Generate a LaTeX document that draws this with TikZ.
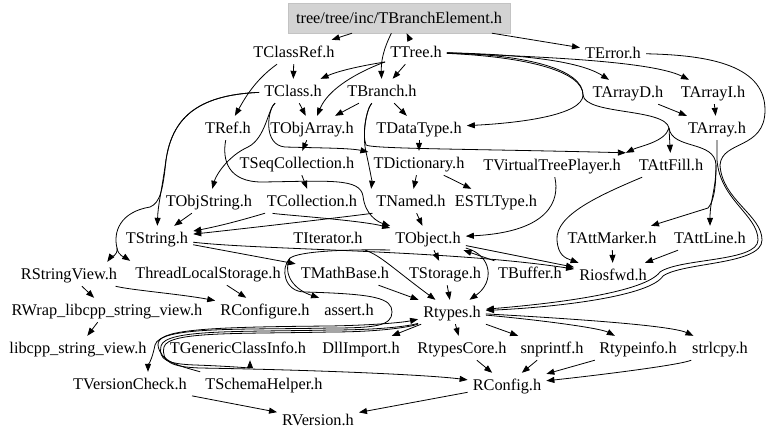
\documentclass[tikz,border=0pt]{standalone}
\usepackage{fontspec}
\setmainfont{Liberation Serif}
\usetikzlibrary{arrows.meta}
\definecolor{boxfill}{RGB}{211,211,211}
\definecolor{boxline}{RGB}{195,195,195}
\begin{document}
\begin{tikzpicture}[x=1pt,y=-1pt,
  n/.style={inner xsep=5pt, inner ysep=6.5pt, text height=11pt, text depth=0pt, font=\fontsize{16.3}{18}\selectfont},
  e/.style={line width=0.8pt, -{Triangle[length=8pt,width=6pt]}}]
\useasboundingbox (0,0) rectangle (768,440);
% nodes
\node[n, fill=boxfill, draw=boxline, inner ysep=3pt, minimum width=222pt, minimum height=30pt] (BE) at (399,18) {tree/tree/inc/TBranchElement.h};
\node[n] (TClassRef) at (294,52) {TClassRef.h};
\node[n] (TTree) at (416,52) {TTree.h};
\node[n] (TError) at (613,53) {TError.h};
\node[n] (TClass) at (293,91) {TClass.h};
\node[n] (TBranch) at (382,91) {TBranch.h};
\node[n] (TArrayD) at (628,92) {TArrayD.h};
\node[n] (TArrayI) at (713,92) {TArrayI.h};
\node[n] (TRef) at (228,128) {TRef.h};
\node[n] (TObjArray) at (312,128) {TObjArray.h};
\node[n] (TDataType) at (419,128) {TDataType.h};
\node[n] (TArray) at (717,128) {TArray.h};
\node[n] (TSeqCollection) at (297,163) {TSeqCollection.h};
\node[n] (TDictionary) at (419,163) {TDictionary.h};
\node[n] (TVirtualTreePlayer) at (552,165) {TVirtualTreePlayer.h};
\node[n] (TAttFill) at (671,165) {TAttFill.h};
\node[n] (TObjString) at (209,201) {TObjString.h};
\node[n] (TCollection) at (312,201) {TCollection.h};
\node[n] (TNamed) at (411,201) {TNamed.h};
\node[n] (ESTLType) at (496,201) {ESTLType.h};
\node[n] (TString) at (157,238) {TString.h};
\node[n] (TIterator) at (328,238) {TIterator.h};
\node[n] (TObject) at (428,238) {TObject.h};
\node[n] (TAttMarker) at (612,238) {TAttMarker.h};
\node[n] (TAttLine) at (710,238) {TAttLine.h};
\node[n] (RStringView) at (69,274) {RStringView.h};
\node[n] (ThreadLocalStorage) at (208,273) {ThreadLocalStorage.h};
\node[n] (TMathBase) at (345,273) {TMathBase.h};
\node[n] (TStorage) at (445,273) {TStorage.h};
\node[n] (TBuffer) at (530,273) {TBuffer.h};
\node[n] (Riosfwd) at (613,275) {Riosfwd.h};
\node[n] (RWrap) at (107,310) {RWrap\_libcpp\_string\_view.h};
\node[n] (RConfigure) at (265,310) {RConfigure.h};
\node[n] (assert) at (349,310) {assert.h};
\node[n] (Rtypes) at (452,312) {Rtypes.h};
\node[n] (libcpp) at (78,348) {libcpp\_string\_view.h};
\node[n] (TGenericClassInfo) at (238,348) {TGenericClassInfo.h};
\node[n] (DllImport) at (361,348) {DllImport.h};
\node[n] (RtypesCore) at (462,348) {RtypesCore.h};
\node[n] (snprintf) at (552,348) {snprintf.h};
\node[n] (Rtypeinfo) at (638,348) {Rtypeinfo.h};
\node[n] (strlcpy) at (720,348) {strlcpy.h};
\node[n] (TVersionCheck) at (130,384) {TVersionCheck.h};
\node[n] (TSchemaHelper) at (264,384) {TSchemaHelper.h};
\node[n] (RConfig) at (507,385) {RConfig.h};
\node[n] (RVersion) at (318,420) {RVersion.h};
% bend points
\coordinate (b1) at (583,95);
\coordinate (b2) at (669,128);
\coordinate (b3) at (716,165);
% edges top
\draw[e] (BE) -- (TClassRef);
\draw[e] (TTree) -- (BE);
\draw[e] (BE) .. controls (383,50) and (381,62) .. (TBranch);
\draw[e] (BE) -- (TError);
\draw[e] (TClassRef) -- (TClass);
\draw[e] (TClassRef) .. controls (255,80) and (245,98) .. (TRef);
\draw[e] (TTree) .. controls (385,62) and (345,68) .. (TClass);
\draw[e] (TTree) .. controls (385,62) and (332,80) .. (TObjArray);
\draw[e] (TTree) -- (TBranch);
\draw[e] (TTree) .. controls (500,54) and (575,58) .. (TArrayD);
\draw[e] (TTree) .. controls (520,56) and (650,60) .. (TArrayI);
\draw[e] (TTree) .. controls (530,55) and (583,70) .. (b1) .. controls (583,115) and (520,123) .. (TDataType);
\draw[e] (TTree) .. controls (530,57) and (583,72) .. (b1) .. controls (585,115) and (665,108) .. (b2) -- (TAttFill);
\draw[e] (b2) .. controls (665,142) and (640,146) .. (TVirtualTreePlayer.north east);
\draw[e] (b2) .. controls (672,150) and (715,140) .. (b3) .. controls (716,190) and (710,200) .. (TAttLine);
\draw[e] (b3) .. controls (716,195) and (712,203) .. (708,208) -- (TAttMarker);
\draw[e] (TArray) -- (717,160) .. controls (720,200) and (758,215) .. (758,240) .. controls (758,262) and (680,258) .. (660,272) .. controls (645,292) and (560,303) .. (Rtypes);
\draw[e] (TError) .. controls (700,55) and (765,62) .. (765,110) .. controls (765,150) and (722,140) .. (720,165) .. controls (722,200) and (762,215) .. (762,240) .. controls (762,265) and (683,262) .. (663,276) .. controls (650,296) and (560,307) .. (Rtypes);
% middle
\draw[e] (TClass) -- (TObjArray);
\draw[e] (TClass) .. controls (195,95) and (172,120) .. (166,160) .. controls (161,195) and (158,205) .. (TString);
\draw[e] (TClass) .. controls (195,95) and (172,120) .. (166,160) .. controls (163,190) and (160,203) .. (150,207) .. controls (120,212) and (113,232) .. (117,248) .. controls (118,256) and (110,258) .. ([xshift=-15pt]RStringView.north east);
\draw[e] (117,248) .. controls (118,256) and (126,258) .. (ThreadLocalStorage.north west);
\draw[e] (TClass) .. controls (268,108) and (266,138) .. (248,147) .. controls (228,156) and (216,175) .. (TObjString);
\draw[e] (TClass) .. controls (268,108) and (262,145) .. (285,147) .. controls (320,148) and (350,148) .. (TDictionary);
\draw[e] (TBranch) -- (TObjArray);
\draw[e] (TBranch) -- (TDataType);
\draw[e] (TBranch) .. controls (366,110) and (362,135) .. (366,152) .. controls (370,170) and (372,182) .. (TNamed.north west);
\draw[e] (TBranch) .. controls (366,110) and (362,135) .. (366,145) .. controls (372,149) and (480,149) .. (TVirtualTreePlayer.north east);
\draw[e] (TArrayD) -- (TArray);
\draw[e] (TArrayI) -- (TArray);
\draw[e] (TDataType) -- (TDictionary);
\draw[e] (TObjArray) -- (TSeqCollection);
\draw[e] (TSeqCollection) -- (TCollection);
\draw[e] (TRef) .. controls (222,160) and (228,182) .. (262,182) .. controls (330,181) and (360,178) .. (363,196) .. controls (365,215) and (378,222) .. (TObject);
\draw[e] (TDictionary) -- (TNamed);
\draw[e] (TDictionary) -- (ESTLType);
\draw[e] (TObjString) -- (TString);
\draw[e] (TCollection) .. controls (262,214) and (230,224) .. (TString);
\draw[e] (TCollection) .. controls (270,214) and (360,220) .. (TObject);
\draw[e] (TNamed) .. controls (370,214) and (250,228) .. (TString);
\draw[e] (TNamed) -- (TObject);
\draw[e] (TVirtualTreePlayer) .. controls (560,200) and (550,232) .. (TObject);
\draw[e] (TAttFill) .. controls (600,195) and (555,215) .. (557,240) .. controls (558,255) and (565,258) .. (Riosfwd);
\draw[e] (TAttMarker) -- (Riosfwd);
\draw[e] (TAttLine) -- (Riosfwd);
\draw[e] (TObject) -- (Riosfwd);
\draw[e] (TString) .. controls (260,250) and (450,250) .. (Riosfwd);
\draw[e] (TString) -- (TMathBase);
\draw[e] (TObject) -- (TStorage);
\draw[e] (TBuffer) -- (TObject);
\draw[e] (TObject) .. controls (492,255) and (495,282) .. (Rtypes);
\draw[e] (TIterator) .. controls (380,255) and (395,270) .. (Rtypes);
\draw[e] (TStorage) -- (Rtypes);
\draw[e] (TMathBase) -- (Rtypes);
\draw[e] (ThreadLocalStorage) -- (RConfigure);
\draw[e] (RStringView) -- (RWrap);
\draw[e] (RStringView) .. controls (130,290) and (180,294) .. (RConfigure);
\draw[e] (RWrap) -- (libcpp);
% loops
\draw[e] (TObject) .. controls (390,250) and (305,248) .. (290,258) .. controls (280,268) and (284,292) .. (305,292) .. controls (375,294) and (392,298) .. (392,312) .. controls (392,326) and (375,328) .. (330,328) .. controls (240,330) and (160,326) .. (155,345) .. controls (152,360) and (148,366) .. ([xshift=18pt]TVersionCheck.north);
\draw[e] (290,258) .. controls (282,275) and (295,290) .. (assert.north west);
\draw[e] (TSchemaHelper.north west) .. controls (180,366) and (160,362) .. (158,345) .. controls (157,330) and (200,327) .. (330,326) .. controls (380,325) and (405,322) .. (Rtypes);
\draw[e] (Rtypes) .. controls (410,326) and (380,330) .. (330,330) .. controls (240,332) and (165,329) .. (161,346) .. controls (158,360) and (168,364) .. (195,365) .. controls (225,366) and (250,368) .. ([xshift=12pt]TGenericClassInfo.south);
\draw[e] (Rtypes) .. controls (410,327) and (380,332) .. (330,332) .. controls (240,334) and (168,331) .. (164,347) .. controls (161,362) and (172,367) .. (200,368) .. controls (320,370) and (430,375) .. (RConfig);
% bottom
\draw[e] (Rtypes) -- (DllImport);
\draw[e] (Rtypes) -- (RtypesCore);
\draw[e] (Rtypes) -- (snprintf);
\draw[e] (Rtypes) .. controls (540,320) and (600,328) .. (Rtypeinfo);
\draw[e] (Rtypes) .. controls (560,318) and (670,325) .. (strlcpy);
\draw[e] (RtypesCore) -- (RConfig);
\draw[e] (snprintf) -- (RConfig);
\draw[e] (Rtypeinfo) -- (RConfig);
\draw[e] (strlcpy) .. controls (680,365) and (600,375) .. (RConfig);
\draw[e] (TVersionCheck) -- (RVersion);
\draw[e] (RConfig) -- (RVersion);
\end{tikzpicture}
\end{document}
